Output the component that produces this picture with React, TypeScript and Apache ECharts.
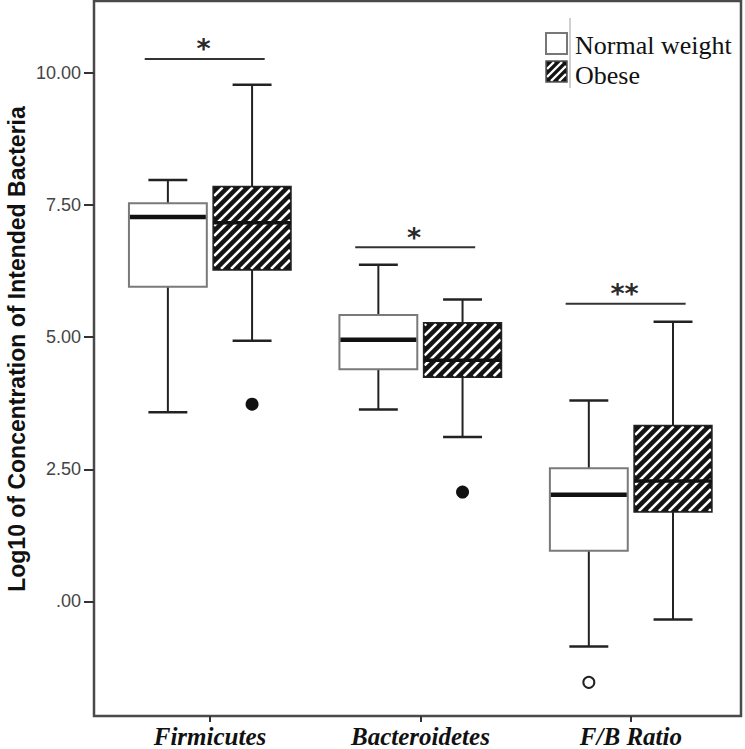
import React, { useEffect, useRef } from 'react';
import * as echarts from 'echarts';

const categories = ['Firmicutes', 'Bacteroidetes', 'F/B Ratio'];
const seriesNames = ['Normal weight', 'Obese'];
const yAxisTitle = 'Log10 of Concentration of Intended Bacteria';
// [min, Q1, median, Q3, max]
const normalWeightStats = [
  [3.58, 5.95, 7.27, 7.53, 7.97],
  [3.63, 4.39, 4.95, 5.42, 6.37],
  [-0.85, 0.96, 2.02, 2.52, 3.8],
];
const obeseStats = [
  [4.93, 6.27, 7.16, 7.85, 9.77],
  [3.11, 4.24, 4.56, 5.27, 5.71],
  [-0.34, 1.69, 2.28, 3.33, 5.29],
];
// [category index, value]
const normalWeightOutliers = [[2, -1.53]];
const obeseOutliers = [[0, 3.73], [1, 2.07]];
const significanceLevels = [10.26, 6.7, 5.63];
const significanceLabels = ['*', '*', '**'];
const yTickValues = [0, 2.5, 5, 7.5, 10];

const Y_MIN = -2.166;
const Y_MAX = 11.356;
const X_MIN = 0.449;
const X_MAX = 3.523;
const GROUP_OFFSET = 0.2;
const BOX_HALF = 0.185;

function stripeLines(x0: number, y0: number, x1: number, y1: number, step = 10, width = 2.6) {
  const out: any[] = [];
  const cStart = Math.ceil((x0 + y0) / step) * step;
  for (let c = cStart; c <= x1 + y1; c += step) {
    const xs = Math.max(x0, c - y1);
    const xe = Math.min(x1, c - y0);
    if (xe - xs > 0.5) {
      out.push({
        type: 'line',
        shape: { x1: xs, y1: c - xs, x2: xe, y2: c - xe },
        style: { stroke: '#ffffff', lineWidth: width },
        silent: true,
      });
    }
  }
  return out;
}

function boxRenderer(offset: number, hatched: boolean) {
  return (params: any, api: any) => {
    const xv = api.value(0) + offset;
    const pt = (v: number) => api.coord([xv, v]);
    const [cx, yMin] = pt(api.value(1));
    const yQ1 = pt(api.value(2))[1];
    const yMed = pt(api.value(3))[1];
    const yQ3 = pt(api.value(4))[1];
    const yMax = pt(api.value(5))[1];
    const unit = api.size([1, 0])[0];
    const hw = unit * BOX_HALF;
    const cap = hw / 2;
    const line = (x1: number, y1: number, x2: number, y2: number, w = 2, c = '#222') => ({
      type: 'line',
      shape: { x1, y1, x2, y2 },
      style: { stroke: c, lineWidth: w },
    });
    const children: any[] = [
      line(cx, yQ3, cx, yMax),
      line(cx, yQ1, cx, yMin),
      line(cx - cap, yMax, cx + cap, yMax, 2.5),
      line(cx - cap, yMin, cx + cap, yMin, 2.5),
    ];
    const x0 = cx - hw;
    const x1 = cx + hw;
    if (hatched) {
      children.push({
        type: 'rect',
        shape: { x: x0, y: yQ3, width: x1 - x0, height: yQ1 - yQ3 },
        style: { fill: '#141414', stroke: 'none' },
      });
      children.push(...stripeLines(x0 + 1, yQ3 + 1, x1 - 1, yQ1 - 1));
      children.push({
        type: 'rect',
        shape: { x: x0, y: yQ3, width: x1 - x0, height: yQ1 - yQ3 },
        style: { fill: 'none', stroke: '#222', lineWidth: 1.5 },
      });
      children.push(line(x0, yMed, x1, yMed, 3.5, '#111'));
    } else {
      children.push({
        type: 'rect',
        shape: { x: x0, y: yQ3, width: x1 - x0, height: yQ1 - yQ3 },
        style: { fill: '#ffffff', stroke: '#7a7a7a', lineWidth: 2 },
      });
      children.push(line(x0 + 1, yMed, x1 - 1, yMed, 4.5, '#111'));
    }
    return { type: 'group', children };
  };
}

function sigRenderer(params: any, api: any) {
  const xv = api.value(0);
  const unit = api.size([1, 0])[0];
  const [cx, cy] = api.coord([xv, api.value(1)]);
  const left = cx - unit * 0.31;
  const right = cx + unit * 0.26;
  return {
    type: 'group',
    children: [
      {
        type: 'line',
        shape: { x1: left, y1: cy, x2: right, y2: cy },
        style: { stroke: '#333', lineWidth: 2 },
      },
      {
        type: 'text',
        x: cx - unit * 0.03,
        y: cy - 10,
        style: {
          text: significanceLabels[params.dataIndex],
          fontFamily: 'DejaVu Sans',
          fontWeight: 'bold',
          fontSize: 27,
          fill: '#2a2a2a',
          align: 'center',
          verticalAlign: 'middle',
        },
      },
    ],
  };
}

function legendGraphic() {
  const sx = 546;
  const sw = 21;
  const y1 = 33;
  const y2 = 61;
  const sh = 21;
  return [
    {
      type: 'line',
      shape: { x1: 570, y1: 18, x2: 570, y2: 88 },
      style: { stroke: '#d0d0d0', lineWidth: 2 },
    },
    {
      type: 'rect',
      shape: { x: sx, y: y1, width: sw, height: sh },
      style: { fill: '#fff', stroke: '#777', lineWidth: 2 },
    },
    {
      type: 'group',
      children: [
        { type: 'rect', shape: { x: sx, y: y2, width: sw, height: sh }, style: { fill: '#141414' } },
        ...stripeLines(sx + 1, y2 + 1, sx + sw - 1, y2 + sh - 1, 8, 2.4),
        { type: 'rect', shape: { x: sx, y: y2, width: sw, height: sh }, style: { fill: 'none', stroke: '#555', lineWidth: 1.5 } },
      ],
    },
    {
      type: 'text',
      x: 575,
      y: 45,
      style: { text: seriesNames[0], fontFamily: 'Liberation Serif', fontSize: 26, fill: '#111', verticalAlign: 'middle' },
    },
    {
      type: 'text',
      x: 575,
      y: 75,
      style: { text: seriesNames[1], fontFamily: 'Liberation Serif', fontSize: 26, fill: '#111', verticalAlign: 'middle' },
    },
    {
      type: 'text',
      x: 17,
      y: 349,
      rotation: Math.PI / 2,
      style: {
        text: yAxisTitle,
        fontFamily: 'Liberation Sans',
        fontWeight: 'bold',
        fontSize: 23,
        fill: '#111',
        align: 'center',
        verticalAlign: 'middle',
      },
    },
  ];
}

export default function App() {
  const ref = useRef<HTMLDivElement>(null);
  useEffect(() => {
    if (!ref.current) return;
    const chart = echarts.init(ref.current, null, { renderer: 'svg' });
    const option: any = {
      animation: false,
      backgroundColor: '#ffffff',
      grid: {
        left: 94,
        right: 4,
        top: 1,
        bottom: 30,
        show: true,
        borderColor: '#4a4a4a',
        borderWidth: 2.5,
        backgroundColor: 'transparent',
      },
      xAxis: {
        type: 'value',
        min: X_MIN,
        max: X_MAX,
        splitLine: { show: false },
        axisLine: { show: false, onZero: false },
        axisTick: { show: true, customValues: [1, 2, 3], length: 6, lineStyle: { color: '#333', width: 2 } },
        axisLabel: {
          customValues: [1, 2, 3],
          formatter: (v: number) => categories[Math.round(v) - 1] ?? '',
          fontFamily: 'Liberation Serif',
          fontStyle: 'italic',
          fontWeight: 'bold',
          fontSize: 25,
          color: '#111',
          margin: 8,
        },
      },
      yAxis: {
        type: 'value',
        min: Y_MIN,
        max: Y_MAX,
        splitLine: { show: false },
        axisLine: { show: false, onZero: false },
        axisTick: { show: true, customValues: yTickValues, length: 10, lineStyle: { color: '#333', width: 2 } },
        axisLabel: {
          customValues: yTickValues,
          formatter: (v: number) => (Math.abs(v) < 1e-9 ? '.00' : v.toFixed(2)),
          fontFamily: 'Liberation Sans',
          fontSize: 18,
          color: '#444',
          margin: 13,
        },
      },
      series: [
        {
          name: seriesNames[0],
          type: 'custom',
          renderItem: boxRenderer(-GROUP_OFFSET, false),
          encode: { x: 0, y: [1, 2, 3, 4, 5] },
          data: normalWeightStats.map((s, i) => [i + 1, ...s]),
          z: 2,
        },
        {
          name: seriesNames[1],
          type: 'custom',
          renderItem: boxRenderer(GROUP_OFFSET, true),
          encode: { x: 0, y: [1, 2, 3, 4, 5] },
          data: obeseStats.map((s, i) => [i + 1, ...s]),
          z: 2,
        },
        {
          name: seriesNames[0] + ' outliers',
          type: 'scatter',
          symbol: 'circle',
          symbolSize: 11,
          itemStyle: { color: '#fff', borderColor: '#222', borderWidth: 2, opacity: 1 },
          data: normalWeightOutliers.map(([c, v]) => [c + 1 - GROUP_OFFSET, v]),
          z: 3,
        },
        {
          name: seriesNames[1] + ' outliers',
          type: 'scatter',
          symbol: 'circle',
          symbolSize: 13,
          itemStyle: { color: '#111', opacity: 1 },
          data: obeseOutliers.map(([c, v]) => [c + 1 + GROUP_OFFSET, v]),
          z: 3,
        },
        {
          name: 'significance',
          type: 'custom',
          renderItem: sigRenderer,
          encode: { x: 0, y: 1 },
          data: significanceLevels.map((v, i) => [i + 1, v]),
          z: 3,
        },
      ],
      graphic: legendGraphic(),
    };
    chart.setOption(option);
    return () => chart.dispose();
  }, []);
  return <div ref={ref} style={{ position: 'fixed', left: 0, top: 0, width: 745, height: 749 }} />;
}
